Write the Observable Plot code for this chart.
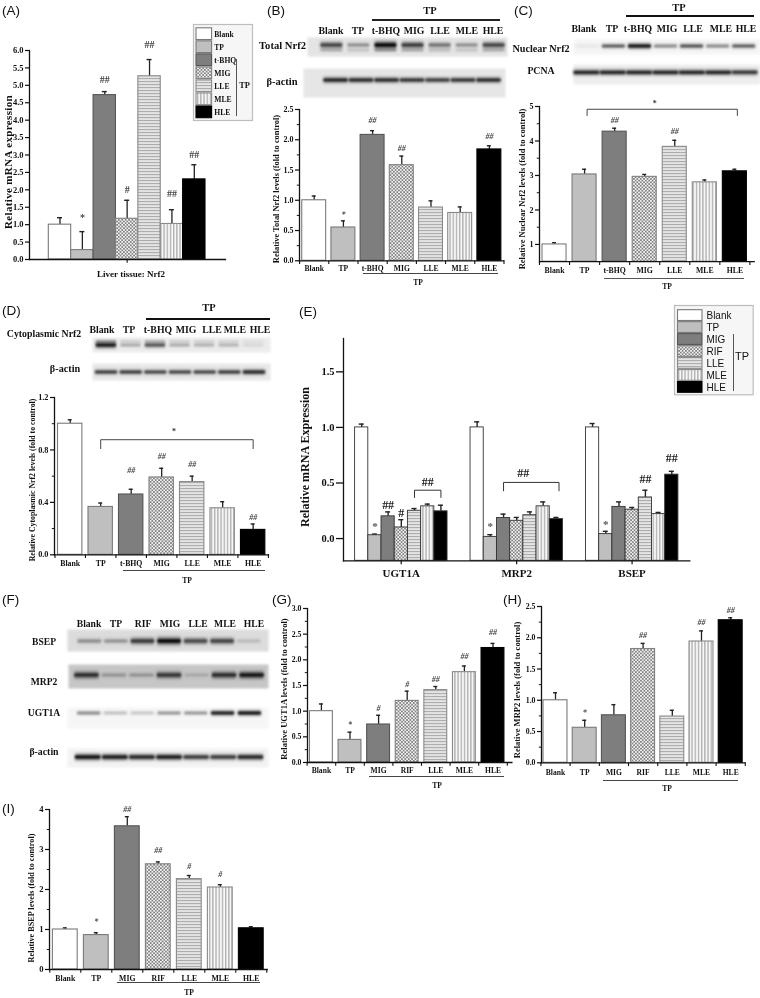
<!DOCTYPE html>
<html><head><meta charset="utf-8">
<script src="https://cdn.jsdelivr.net/npm/d3@7"></script>
<script src="https://cdn.jsdelivr.net/npm/@observablehq/plot@0.6"></script>
<style>
html,body{margin:0;padding:0;background:#fff}
#page{position:relative;width:760px;height:998px;overflow:hidden;background:#fff;filter:blur(.3px)}
#page svg{position:absolute;overflow:visible;background:transparent}
.t{position:absolute;white-space:nowrap;line-height:1}
.r{position:absolute}
</style></head><body>
<svg width="0" height="0" style="position:absolute">
<defs>
<pattern id="xh" width="3.4" height="3.4" patternUnits="userSpaceOnUse">
<rect width="3.4" height="3.4" fill="#f4f4f4"/>
<path d="M0 0L3.4 3.4M3.4 0L0 3.4" stroke="#6f6f6f" stroke-width=".75"/></pattern>
<pattern id="hl" width="3" height="3" patternUnits="userSpaceOnUse">
<rect width="3" height="3" fill="#e4e4e4"/><rect y="1" width="3" height="1.1" fill="#adadad"/></pattern>
<pattern id="vl" width="3.2" height="3.2" patternUnits="userSpaceOnUse">
<rect width="3.2" height="3.2" fill="#f7f7f7"/><rect x="1" width="1" height="3.2" fill="#9a9a9a"/></pattern>
</defs></svg>
<div id="page"></div>
<script>
// ---------- categories ----------
const groupsBHQ = ["Blank","TP","t-BHQ","MIG","LLE","MLE","HLE"];
const groupsRIF = ["Blank","TP","MIG","RIF","LLE","MLE","HLE"];
const lanesF    = ["Blank","TP","RIF","MIG","LLE","MLE","HLE"];
const genesE    = ["UGT1A","MRP2","BSEP"];
// ---------- series values ----------
const meanA=[1.0,0.27,4.72,1.17,5.26,1.02,2.30], errA=[1.20,0.80,4.82,1.70,5.74,1.43,2.72];
const meanB=[1.0,0.55,2.08,1.58,0.88,0.79,1.84], errB=[1.07,0.66,2.15,1.73,0.99,0.89,1.90];
const meanC=[1.0,3.03,4.27,2.96,3.83,2.80,3.12], errC=[1.05,3.18,4.37,3.03,4.02,2.87,3.18];
const meanD=[1.0,0.365,0.46,0.59,0.555,0.355,0.19], errD=[1.03,0.395,0.50,0.66,0.60,0.405,0.235];
const meanG=[1.0,0.44,0.74,1.20,1.41,1.76,2.23], errG=[1.14,0.59,0.92,1.39,1.48,1.88,2.32];
const meanH=[1.0,0.56,0.76,1.82,0.74,1.94,2.28], errH=[1.12,0.68,0.93,1.91,0.84,2.11,2.32];
const meanI=[1.0,0.86,3.58,2.63,2.26,2.05,1.03], errI=[1.04,0.92,3.82,2.69,2.35,2.12,1.07];
const meanE=[[1.0,0.03,0.20,0.10,0.25,0.29,0.245],[1.0,0.015,0.185,0.16,0.21,0.29,0.175],[1.0,0.04,0.285,0.26,0.37,0.22,0.575]];
const errE =[[1.03,0.04,0.24,0.17,0.27,0.31,0.30],[1.05,0.035,0.22,0.19,0.24,0.33,0.19],[1.035,0.065,0.33,0.28,0.435,0.235,0.605]];
// ---------- significance labels: group, mark, height ----------
const annA=[["TP","*",1.2],["t-BHQ","##",5.16],["MIG","#",2.0],["LLE","##",6.16],["MLE","##",1.9],["HLE","##",3.01]];
const annB=[["TP","*",0.77],["t-BHQ","##",2.32],["MIG","##",1.85],["HLE","##",2.05]];
const annC=[["t-BHQ","##",4.61],["LLE","##",4.275]];
const annD=[["t-BHQ","##",0.645],["MIG","##",0.75],["LLE","##",0.69],["HLE","##",0.285]];
const annG=[["TP","*",0.74],["MIG","#",1.06],["RIF","#",1.52],["LLE","##",1.62],["MLE","##",2.06],["HLE","##",2.53]];
const annH=[["TP","*",0.80],["RIF","##",2.04],["MLE","##",2.24],["HLE","##",2.43]];
const annI=[["TP","*",1.2],["MIG","##",4.0],["RIF","##",2.97],["LLE","#",2.57],["MLE","#",2.37]];
const annE=[[0,1,"*",0.11],[0,2,"##",0.30],[0,3,"#",0.23],[0,5,"##",0.505],[1,1,"*",0.105],[1,3.5,"##",0.585],[2,1,"*",0.13],[2,4,"##",0.535],[2,6,"##",0.72]];
// ---------- blot band strengths, read by eye ----------
const blotB1=[.75,.42,1,.8,.55,.42,.75], blotB2=[.95,.9,.9,.85,.8,.85,.9];
const blotC1=[.1,.7,1,.55,.75,.55,.7],  blotC2=[.9,.9,.9,.9,.9,.9,.85];
const blotD1=[.95,.35,.7,.35,.32,.3,.14], blotD2=[.85,.85,.8,.8,.8,.85,.9];
const blotF1=[.42,.38,.8,1,.72,.75,.2], blotF2=[.85,.3,.3,.8,.2,.85,.92];
const blotF3=[.55,.35,.3,.5,.5,.95,1],  blotF4=[1,.95,.9,.95,.85,.85,.9];

// ---------- styles ----------
const SERIF='"Liberation Serif"', SANS='"Liberation Sans"';
const fills=["#ffffff","#bfbfbf","#7e7e7e","url(#xh)","url(#hl)","url(#vl)","#000000"];
const strokes=["#7a7a7a","#7a7a7a","#565656","#808080","#8a8a8a","#8a8a8a","#000000"];
const page=document.getElementById("page");

function lab(t,x,y,o={}){
  const d=document.createElement("div");d.className="t";d.textContent=t;
  const tx=o.anchor==="l"?"0":o.anchor==="r"?"-100%":"-50%";
  d.style.cssText=`left:${x}px;top:${y}px;font:${o.w||"bold"} ${o.size||8}px ${o.f||SERIF};color:${o.color||"#111"};letter-spacing:${o.ls||0}px;transform:translate(${tx},-50%) rotate(${o.rot||0}deg)`;
  page.append(d);
}
function hline(x1,x2,y,t=1,c="#333"){const d=document.createElement("div");d.className="r";d.style.cssText=`left:${x1}px;top:${y-t/2}px;width:${x2-x1}px;height:${t}px;background:${c}`;page.append(d);}
function vline(x,y1,y2,t=1,c="#444"){const d=document.createElement("div");d.className="r";d.style.cssText=`left:${x-t/2}px;top:${y1}px;width:${t}px;height:${y2-y1}px;background:${c}`;page.append(d);}
function place(svg,l,t){svg.style.left=l+"px";svg.style.top=t+"px";page.append(svg);}

function barPanel(o){
  const ml=36,mr=8,mt=24,mb=30,[ymin,ymax]=o.domain;
  const W=o.x1-o.x0+ml+mr,H=o.yBase-o.yTop+mt+mb,ox=o.x0-ml;
  const k=(o.yBase-o.yTop)/(ymax-ymin),step=(o.bandR-o.bandL)/o.names.length,bw=step*(1-o.padding);
  const data=o.names.map((n,i)=>({n,i,m:o.mean[i],e:o.err[i]}));
  const ann=o.ann.map(([n,t,v])=>({n,t,v}));
  const tickLen=y=>ymin-y/k;
  const marks=[
    Plot.ruleX(data,{x:"n",y1:"m",y2:"e",stroke:"#222",strokeWidth:1.3}),
    Plot.tickY(data,{x:"n",y:"e",stroke:"#222",strokeWidth:1.4,insetLeft:(bw-o.cap)/2,insetRight:(bw-o.cap)/2}),
    Plot.barY(data,{x:"n",y1:ymin,y2:"m",fill:{value:d=>fills[d.i],scale:null},stroke:{value:d=>strokes[d.i],scale:null},strokeWidth:1.1}),
    Plot.axisY({ticks:o.ticks,tickSize:4,tickPadding:2,tickFormat:d3.format(o.fmt),fontWeight:"bold",fontSize:o.tickFont||8.5,label:null,strokeWidth:1.2,stroke:"#111"}),
    Plot.axisY({ticks:o.minor,tickSize:2.2,tickFormat:null,text:null,label:null,strokeWidth:1,stroke:"#111"}),
    Plot.frame({anchor:"left",stroke:"#111",strokeWidth:1.3}),
    Plot.frame({anchor:"bottom",stroke:"#111",strokeWidth:1.3}),
    Plot.text(ann,{x:"n",y:"v",text:"t",fill:"#444",fontSize:o.annFont||8,fontWeight:"bold",fontStyle:o.annItalic===false?"normal":"italic",lineAnchor:"middle"})
  ];
  if(o.boundaries){
    marks.push(Plot.ruleX(o.names,{x:d=>d,y1:ymin,y2:tickLen(3.8),dx:step/2,stroke:"#111",strokeWidth:1.1}));
    marks.push(Plot.ruleX([o.names[0]],{x:d=>d,y1:ymin,y2:tickLen(3.8),dx:-step/2,stroke:"#111",strokeWidth:1.1}));
  }
  if(o.centerTick) marks.push(Plot.ruleX([o.centerTick],{x:d=>d,y1:ymin,y2:tickLen(3.8),stroke:"#111",strokeWidth:1.1}));
  if(o.catLabels!==false) marks.push(Plot.axisX({tickSize:0,tickPadding:o.labelPad,fontWeight:"bold",fontSize:o.catFont||8,label:null}));
  if(o.bracket){
    const [a,b,top,drop]=o.bracket;
    marks.push(Plot.line([[a,drop],[a,top],[b,top],[b,drop]],{x:d=>d[0],y:d=>d[1],stroke:"#444",strokeWidth:1,dx:o.bracketDx||0}));
  }
  const svg=Plot.plot({width:W,height:H,marginLeft:ml,marginRight:mr,marginTop:mt,marginBottom:mb,
    style:{fontFamily:SERIF,color:"#111",background:"transparent",overflow:"visible"},
    x:{type:"band",domain:o.names,range:[o.bandL-ox,o.bandR-ox],paddingInner:o.padding,paddingOuter:o.padding/2,round:false,axis:null},
    y:{domain:o.domain,axis:null},marks});
  place(svg,ox,o.yTop-mt);
}

function blot(o){
  const w=o.x1-o.x0,h=o.y1-o.y0,n=o.values.length,s=(o.cN-o.c0)/(n-1),c=o.bandY-o.y0,m=o.thick||1,g=o.ghost||0;
  const data=o.values.map((v,i)=>({l:lanesF[i],v}));
  const marks=[
    Plot.frame({fill:o.bg,stroke:"none",imageFilter:"blur(1.2px)"}),
    Plot.barY(data,{x:"l",y1:d=>c-m*(1.4+3*d.v),y2:d=>c+m*(1.4+3*d.v),fill:"v",fillOpacity:.4,imageFilter:"blur(1.8px)"}),
    Plot.barY(data,{x:"l",y1:d=>c-m*(.5+1.3*d.v),y2:d=>c+m*(.5+1.3*d.v),fill:"v",rx:1,imageFilter:"blur(.8px)"})
  ];
  if(g) marks.push(Plot.barY(data,{x:"l",y1:c+g-1.5,y2:c+g+1.5,fill:"v",fillOpacity:.32,imageFilter:"blur(1.2px)"}));
  const svg=Plot.plot({width:w,height:h,margin:0,
    style:{background:"transparent",overflow:"visible"},
    x:{type:"band",domain:lanesF,range:[o.c0-s/2-o.x0,o.cN+s/2-o.x0],padding:o.pad||.12,round:false,axis:null},
    y:{domain:[0,h],range:[0,h],axis:null},
    color:{type:"linear",domain:[0,1],range:[o.bg,"#000"]},
    marks});
  place(svg,o.x0,o.y0);
}

function legend(o){
  const w=o.x1-o.x0,h=o.y1-o.y0;
  const data=o.names.map((n,i)=>({n,i}));
  const svg=Plot.plot({width:w,height:h,margin:0,
    style:{fontFamily:o.f,color:"#111",background:"transparent",overflow:"visible"},
    x:{domain:[0,w],range:[0,w],axis:null},
    y:{type:"band",domain:o.names,range:[o.ry0-o.y0,o.ry1-o.y0],padding:.1,round:false,axis:null},
    marks:[
      Plot.frame({fill:"#f6f6f6",stroke:"#bdbdbd",strokeWidth:1.2}),
      Plot.barX(data,{x1:o.sx0-o.x0,x2:o.sx1-o.x0,y:"n",fill:{value:d=>fills[d.i],scale:null},stroke:{value:d=>strokes[d.i],scale:null},strokeWidth:1.1}),
      Plot.text(data,{x:o.tx-o.x0,y:"n",text:"n",textAnchor:"start",fontSize:o.size,fontWeight:o.w,fill:"#111"})
    ]});
  place(svg,o.x0,o.y0);
}

function panelLetter(t,x,y){lab(t,x,y,{f:SANS,w:"normal",size:13.5,anchor:"l"});}
function header(xs,names,y,size=9.7){names.forEach((n,i)=>lab(n,xs[i],y,{size}));}

// ========== A ==========
panelLetter("(A)",2,10);
barPanel({names:groupsBHQ,mean:meanA,err:errA,ann:annA,domain:[0,6],x0:29,x1:225,yTop:50,yBase:259,bandL:48.3,bandR:205,padding:0,cap:5,
  ticks:d3.range(0,6.01,.5),minor:[],fmt:".1f",tickFont:8.5,catLabels:false,centerTick:"MIG",annFont:10,annItalic:false});
lab("Relative mRNA expression",7.5,162,{size:11,rot:-90,ls:.35});
lab("Liver tissue: Nrf2",131,273.5,{size:9});
legend({names:groupsBHQ,x0:192.7,x1:251.7,y0:24,y1:120,ry0:26.5,ry1:119,sx0:195.7,sx1:211.3,tx:213.5,size:7.6,w:"bold",f:SERIF});
vline(236.3,59,115.5,.9,"#555");
lab("TP",244.5,85,{size:8.4});

// ========== B ==========
panelLetter("(B)",267,10);
lab("TP",430,10,{size:10.5});hline(372,499.5,20,1.3,"#222");
header([331,358,386,414,440,467,493],groupsBHQ,30,9.8);
lab("Total  Nrf2",306,45,{size:10.6,anchor:"r"});
lab("β-actin",282,81,{size:10.5});
blot({x0:307,x1:507,y0:37,y1:56,bandY:45,c0:329,cN:496,values:blotB1,bg:"#e4e4e4",ghost:5,pad:.2});
blot({x0:303,x1:505,y0:68,y1:97,bandY:80,c0:335,cN:489,values:blotB2,bg:"#e6e6e6",pad:.05,thick:.75});
barPanel({names:groupsBHQ,mean:meanB,err:errB,ann:annB,domain:[0,2.5],x0:299.3,x1:503.5,yTop:109,yBase:260.3,bandL:299.4,bandR:503.8,padding:.18,cap:4,
  ticks:d3.range(0,2.51,.5),minor:d3.range(.25,2.5,.5),fmt:".1f",tickFont:8,boundaries:true,labelPad:5,catFont:7.6});
lab("Relative Total Nrf2 levels (fold to control)",276,189,{size:8.4,rot:-90});
hline(363,498,273,.8,"#444");lab("TP",418,281.5,{size:7.6});

// ========== C ==========
panelLetter("(C)",514,10);
lab("TP",679,7,{size:10.5});hline(626,754,16,1.1,"#111");
header([584,612,638,667,693,721,746],groupsBHQ,28,9.8);
lab("Nuclear Nrf2",541,48,{size:10.2});
lab("PCNA",541,70,{size:9.8});
blot({x0:573,x1:760,y0:39,y1:54,bandY:46,c0:586,cN:745,values:blotC1,bg:"#f5f5f5",thick:.7});
blot({x0:573,x1:760,y0:64,y1:84,bandY:72.3,c0:586,cN:745,values:blotC2,bg:"#eeeeee",pad:.03,thick:.8});
barPanel({names:groupsBHQ,mean:meanC,err:errC,ann:annC,domain:[.5,5],x0:539.3,x1:754,yTop:106,yBase:261.2,bandL:539.3,bandR:749.7,padding:.2,cap:4,
  ticks:[1,2,3,4,5],minor:[1.5,2.5,3.5,4.5],fmt:"d",tickFont:8,boundaries:true,labelPad:6,catFont:7.8,bracket:["TP","HLE",4.92,4.74],bracketDx:2.5});
lab("*",654.7,103,{size:8,color:"#333"});
lab("Relative Nuclear Nrf2 levels (fold to control)",522,189,{size:8.5,rot:-90});
hline(604,744,278,.8,"#555");lab("TP",667,286,{size:7.6});

// ========== D ==========
panelLetter("(D)",2,310);
lab("TP",209,307,{size:10.5});hline(146,269.5,319,1.1,"#111");
header([102,129,158,186,212,235,260],groupsBHQ,329,9.8);
lab("Cytoplasmic Nrf2",44,333,{size:9.8});
lab("β-actin",65,368,{size:10.2});
blot({x0:92,x1:270,y0:337,y1:352,bandY:345,c0:104,cN:255,values:blotD1,bg:"#ececec",thick:.8,ghost:-3.5,pad:.18});
blot({x0:92,x1:270,y0:363,y1:380,bandY:372,c0:105,cN:255,values:blotD2,bg:"#e8e8e8",pad:.1,thick:.7});
barPanel({names:groupsBHQ,mean:meanD,err:errD,ann:annD,domain:[0,1.2],x0:54.3,x1:268.3,yTop:396.7,yBase:554,bandL:54.75,bandR:268.2,padding:.2,cap:4,
  ticks:[0,.4,.8,1.2],minor:[.2,.6,1],fmt:".1f",tickFont:8.3,boundaries:true,labelPad:6,catFont:7.8,bracket:["TP","HLE",.878,.81]});
lab("*",174,431,{size:8,color:"#333"});
lab("Relative Cytoplasmic Nrf2 levels (fold to control)",31.7,480,{size:7.8,rot:-90});
hline(123,265,570.7,.8,"#444");lab("TP",187,580,{size:7.6});

// ========== E ==========
panelLetter("(E)",299,311);
(function(){
  const ml=40,mr=8,mt=10,mb=26,x0=342.7,x1=689,yTop=337.7,yBase=560,ymin=-.2,ymax=1.8;
  const bw=.1144,start=.1005,cap=.022,k=(yBase-yTop)/(ymax-ymin);
  const data=genesE.flatMap((g,gi)=>groupsRIF.map((n,i)=>({i,a:gi+start+i*bw,b:gi+start+(i+1)*bw,c:gi+start+(i+.5)*bw,m:meanE[gi][i],e:errE[gi][i]})));
  const ann=annE.map(([g,i,t,v])=>({x:g+start+(i+.5)*bw,t,v,star:t==="*"}));
  const cx=(g,i)=>g+start+(i+.5)*bw;
  const svg=Plot.plot({width:x1-x0+ml+mr,height:yBase-yTop+mt+mb,marginLeft:ml,marginRight:mr,marginTop:mt,marginBottom:mb,
    style:{fontFamily:SERIF,color:"#111",background:"transparent",overflow:"visible"},
    x:{domain:[0,3],axis:null},y:{domain:[ymin,ymax],axis:null},
    marks:[
      Plot.ruleX(data,{x:"c",y1:"m",y2:"e",stroke:"#222",strokeWidth:1.4}),
      Plot.ruleY(data,{x1:d=>d.c-cap,x2:d=>d.c+cap,y:"e",stroke:"#222",strokeWidth:1.4}),
      Plot.rect(data,{x1:"a",x2:"b",y1:ymin,y2:"m",fill:{value:d=>fills[d.i],scale:null},stroke:"#333",strokeWidth:.9}),
      Plot.axisY({ticks:[0,.5,1,1.5],tickSize:7,tickPadding:2,tickFormat:d3.format(".1f"),fontWeight:"bold",fontSize:10.5,label:null,strokeWidth:1.3,stroke:"#111"}),
      Plot.frame({anchor:"left",stroke:"#111",strokeWidth:1.3}),
      Plot.frame({anchor:"bottom",stroke:"#111",strokeWidth:1.3}),
      Plot.ruleX([.5,1.5,2.5],{y1:ymin,y2:ymin-4/k,stroke:"#111",strokeWidth:1.2}),
      Plot.axisX({ticks:[.5,1.5,2.5],tickSize:0,tickPadding:8,tickFormat:d=>genesE[Math.floor(d)],fontWeight:"bold",fontSize:11,label:null}),
      Plot.line([[cx(0,4),.37],[cx(0,4),.435],[cx(0,6),.435],[cx(0,6),.37]],{stroke:"#333",strokeWidth:1}),
      Plot.line([[cx(1,2),.43],[cx(1,2),.505],[cx(1,6.2),.505],[cx(1,6.2),.43]],{stroke:"#333",strokeWidth:1}),
      Plot.text(ann,{x:"x",y:"v",text:"t",fontSize:d=>d.star?11:12,fill:d=>d.star?"#555":"#222",fontWeight:"bold",lineAnchor:"middle"})
    ]});
  place(svg,x0-ml,yTop-mt);
})();
lab("Relative mRNA Expression",305,457,{size:12,rot:-90});
legend({names:groupsRIF,x0:674,x1:752.7,y0:305,y1:394.3,ry0:308.5,ry1:393.5,sx0:677.5,sx1:702,tx:706,size:10,w:"normal",f:SANS});
vline(733.2,334,391,.9,"#555");
lab("TP",735,356,{f:SANS,w:"normal",size:11,anchor:"l"});

// ========== F ==========
panelLetter("(F)",2,599);
header([89,116,143,170,198,225,254],lanesF,623,9.6);
lab("BSEP",44,641,{size:9.6});lab("MRP2",44,681,{size:9.6});lab("UGT1A",44,712,{size:9.6});lab("β-actin",44,751,{size:9.8});
blot({x0:67,x1:268,y0:629,y1:651,bandY:641,c0:88,cN:250,values:blotF1,bg:"#dcdcdc"});
blot({x0:68,x1:268,y0:664,y1:688,bandY:675,c0:85,cN:253,values:blotF2,bg:"#c6c6c6"});
blot({x0:67,x1:268,y0:707,y1:728,bandY:713,c0:87,cN:251,values:blotF3,bg:"#f6f6f6",pad:.14,thick:.65});
blot({x0:67,x1:268,y0:748,y1:767,bandY:757,c0:87,cN:251,values:blotF4,bg:"#f2f2f2",pad:.06,thick:.85});

// ========== G ==========
panelLetter("(G)",272,599);
barPanel({names:groupsRIF,mean:meanG,err:errG,ann:annG,domain:[0,3],x0:307.3,x1:511.7,yTop:607.7,yBase:761.7,bandL:306.9,bandR:507.1,padding:.2,cap:4,
  ticks:d3.range(0,3.01,.5),minor:d3.range(.25,3,.5),fmt:".1f",tickFont:7.8,boundaries:true,labelPad:5.5,catFont:7.6});
lab("Relative UGT1A levels (fold to control)",284,689,{size:8.5,rot:-90});
hline(369,504,776.7,.8,"#444");lab("TP",437,785,{size:7.6});

// ========== H ==========
panelLetter("(H)",503,599);
barPanel({names:groupsRIF,mean:meanH,err:errH,ann:annH,domain:[0,2.5],x0:540.7,x1:744,yTop:606,yBase:762.3,bandL:540.1,bandR:744.5,padding:.18,cap:4,
  ticks:d3.range(0,2.51,.5),minor:d3.range(.25,2.5,.5),fmt:".1f",tickFont:7.8,boundaries:true,labelPad:6.5,catFont:7.6});
lab("Relative MRP2 levels (fold to control)",517,690,{size:8.5,rot:-90});
hline(603,738,780,.8,"#444");lab("TP",667,787.5,{size:7.6});

// ========== I ==========
panelLetter("(I)",2,808);
barPanel({names:groupsRIF,mean:meanI,err:errI,ann:annI,domain:[0,4],x0:49,x1:266.7,yTop:808.7,yBase:968.7,bandL:49.3,bandR:266.3,padding:.2,cap:4,
  ticks:[0,1,2,3,4],minor:[.5,1.5,2.5,3.5],fmt:"d",tickFont:8.6,boundaries:true,labelPad:5.5,catFont:7.8});
lab("Relative BSEP levels (fold to control)",30.7,898,{size:8.2,rot:-90});
hline(117,260,982.7,.8,"#444");lab("TP",189,991.7,{size:7.6});
</script>
</body></html>
